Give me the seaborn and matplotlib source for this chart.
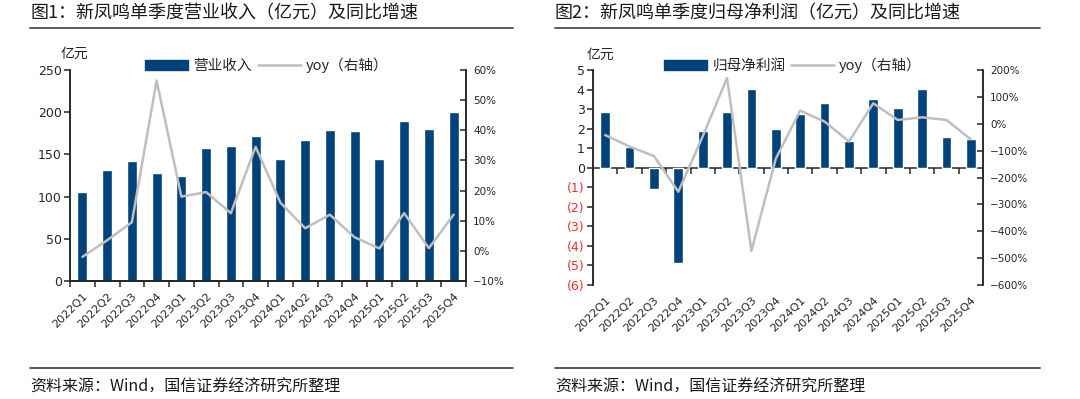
"""Two-panel quarterly chart: bars (left axis) plus yoy growth line (right axis)."""
import matplotlib

matplotlib.use("Agg")
import matplotlib.pyplot as plt  # noqa: E402
import numpy as np  # noqa: E402
import seaborn as sns  # noqa: E402
from matplotlib.lines import Line2D  # noqa: E402
from matplotlib.patches import Patch  # noqa: E402
from matplotlib.ticker import FuncFormatter  # noqa: E402

# --------------------------------------------------------------------------- #
# Data                                        #
# --------------------------------------------------------------------------- #
quarters = ["2022Q1", "2022Q2", "2022Q3", "2022Q4",
            "2023Q1", "2023Q2", "2023Q3", "2023Q4",
            "2024Q1", "2024Q2", "2024Q3", "2024Q4",
            "2025Q1", "2025Q2", "2025Q3", "2025Q4"]

revenue = [105, 131, 142, 128, 125, 157, 160, 172,
           145, 167, 179, 178, 145, 189, 180, 200]          # 亿元
revenue_yoy = [-2, 3.5, 9.5, 56.5, 18, 19.5, 12.5, 34.5,
               16, 7.5, 12, 4.5, 0.8, 12.5, 0.9, 12]       # %

profit = [2.84, 1.08, -1.09, -4.87, 1.88, 2.87, 4.05, 1.98,
          2.74, 3.30, 1.38, 3.54, 3.06, 4.02, 1.59, 1.47]   # 亿元
profit_yoy = [-42, -85, -120, -253, -47, 170, -473, -130,
              49, 8, -66, 76, 14, 24, 14, -58]             # %

BAR = "#00427A"
LINE = "#BFBFBF"
INK = "#262626"
RED = "#E8322E"
RULE = "#4D4D4D"

sns.set_theme(style="white")
plt.rcParams["font.family"] = ["Noto Sans CJK SC", "DejaVu Sans"]
plt.rcParams["axes.unicode_minus"] = True

W, H = 1080, 399
fig = plt.figure(figsize=(W / 100, H / 100), dpi=100)


def _px(x0, y0, x1, y1):
    """Pixel box (top-left origin) -> figure rect."""
    return [x0 / W, 1 - y1 / H, (x1 - x0) / W, (y1 - y0) / H]


def _header_footer(x0, x1, title):
    fig.text(x0 / W, 1 - 13 / H, title, fontsize=13, color="#1A1A1A", va="center")
    for y in (27.5, 368):
        fig.add_artist(Line2D([x0 / W, x1 / W], [1 - y / H] * 2, transform=fig.transFigure,
                              color=RULE, lw=1.3))
    fig.text(x0 / W, 1 - 387 / H, "资料来源：Wind，国信证券经济研究所整理",
             fontsize=11.5, color="#1A1A1A", va="center")


def _panel(rect, values, yoy, name, ylim, ystep, y2lim, y2step, legend_xy, unit_xy):
    ax = fig.add_axes(rect)
    sns.barplot(x=quarters, y=values, color=BAR, saturation=1, width=0.4, ax=ax)
    ax.set_xlim(-0.5, len(quarters) - 0.5)
    ax.set_ylim(*ylim)
    ax.set_yticks(np.arange(ylim[0], ylim[1] + ystep / 2, ystep))

    ax2 = ax.twinx()
    sns.lineplot(x=np.arange(len(quarters)), y=yoy, color=LINE, lw=1.8, ax=ax2, legend=False)
    ax2.set_ylim(*y2lim)
    ax2.set_yticks(np.arange(y2lim[0], y2lim[1] + y2step / 2, y2step))
    ax2.yaxis.set_major_formatter(FuncFormatter(lambda v, _: f"{v:.0f}%".replace("-", "−")))

    # spines / ticks
    for a in (ax, ax2):
        a.spines["top"].set_visible(False)
        for s in ("left", "right", "bottom"):
            a.spines[s].set_color(INK)
            a.spines[s].set_linewidth(1.1)
    ax.tick_params(axis="y", left=True, direction="out", length=4, width=1.1,
                   labelsize=9, colors=INK, pad=2)
    ax2.tick_params(axis="y", right=True, direction="in", length=4, width=1.1,
                    labelsize=7.5, colors=INK, pad=5)
    for lab in ax.get_yticklabels() + ax2.get_yticklabels():
        lab.set_fontfamily("DejaVu Sans")

    # category labels at the bottom, boundary ticks on the zero line
    ax.set_xticks(range(len(quarters)))
    ax.set_xticklabels(quarters, rotation=45, ha="right", rotation_mode="anchor",
                       fontsize=8.2, color=INK, fontfamily="DejaVu Sans")
    ax.tick_params(axis="x", bottom=True, length=0, pad=7)
    ax.set_xlabel("")
    zero = (0 - ylim[0]) / (ylim[1] - ylim[0])
    if zero > 0:
        ax.spines["bottom"].set_visible(False)
        ax2.spines["bottom"].set_visible(False)
    sec = ax.secondary_xaxis(zero)
    sec.set_alignment("bottom")
    sec.set_xticks(np.arange(-0.5, len(quarters), 1.0))
    sec.set_xticklabels([])
    sec.tick_params(axis="x", bottom=True, top=False, direction="out", length=4.5,
                    width=1.1, color=INK)
    sec.spines["bottom"].set_color(INK)
    sec.spines["bottom"].set_linewidth(1.1)

    handles = [Patch(color=BAR), Line2D([], [], color=LINE, lw=1.8)]
    ax2.legend(handles, [name, "yoy（右轴）"], loc="center", ncol=2, frameon=False,
               bbox_to_anchor=(legend_xy[0] / W, 1 - legend_xy[1] / H),
               bbox_transform=fig.transFigure, fontsize=10.5, handlelength=2.95,
               handletextpad=0.35, columnspacing=0.4, labelcolor=INK)
    fig.text(unit_xy[0] / W, 1 - unit_xy[1] / H, "亿元", fontsize=10, color=INK,
             ha="center", va="center")
    return ax, ax2


# --------------------------------------------------------------------------- #
# Figure 1 — revenue                                                           #
# --------------------------------------------------------------------------- #
_header_footer(30, 513, "图1：新凤鸣单季度营业收入（亿元）及同比增速")
_panel(_px(70, 70, 466, 281), revenue, revenue_yoy, "营业收入",
       (0, 250), 50, (-10, 60), 10, legend_xy=(267, 65), unit_xy=(74, 54))

# --------------------------------------------------------------------------- #
# Figure 2 — net profit attributable to parent                                 #
# --------------------------------------------------------------------------- #
_header_footer(555, 1040, "图2：新凤鸣单季度归母净利润（亿元）及同比增速")
ax_p, _ = _panel(_px(593, 70, 983, 285), profit, profit_yoy, "归母净利润",
                 (-6, 5), 1, (-600, 200), 100, legend_xy=(793, 65), unit_xy=(600, 55))
ax_p.yaxis.set_major_formatter(
    FuncFormatter(lambda v, _: f"({-v:.0f})" if v < 0 else f"{v:.0f}"))
fig.canvas.draw()
for lab in ax_p.get_yticklabels():
    lab.set_fontfamily("DejaVu Sans")
    if lab.get_text().startswith("("):
        lab.set_color(RED)

fig.savefig("out.png", dpi=100)
plt.close(fig)
